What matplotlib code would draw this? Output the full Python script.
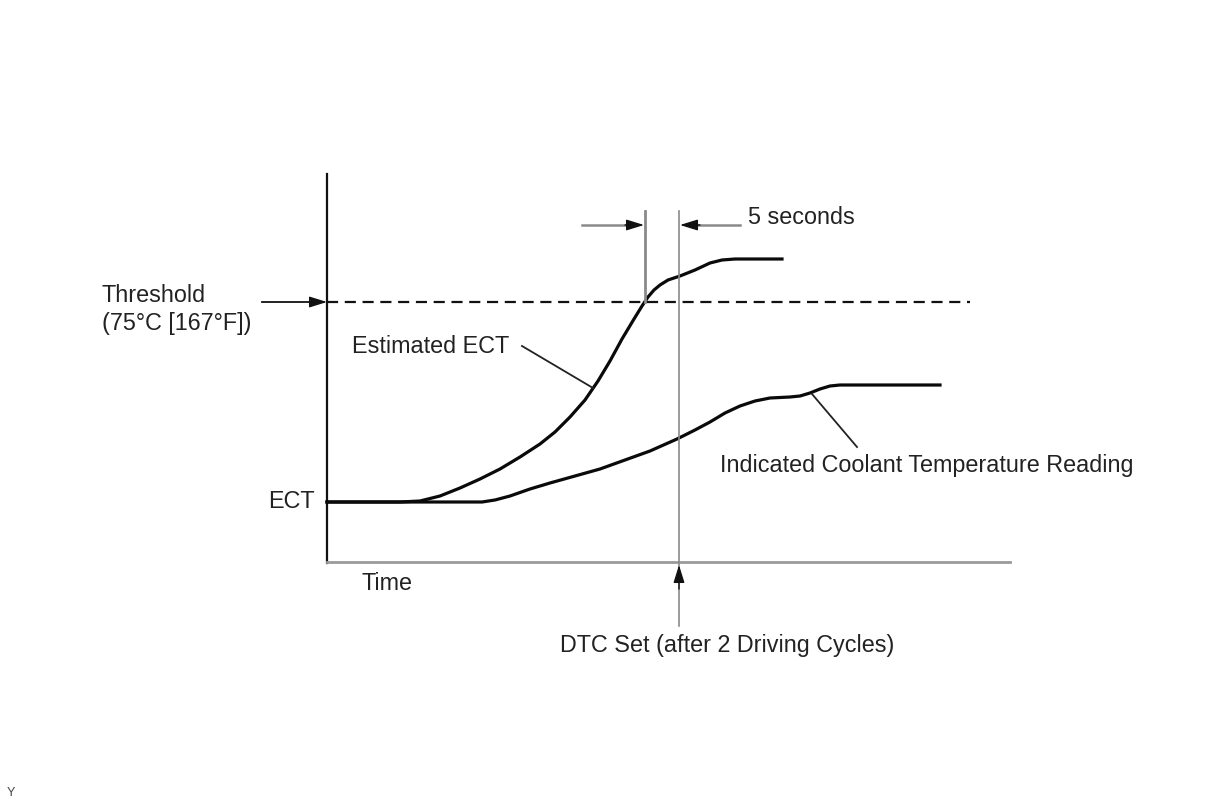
import numpy as np
import matplotlib
matplotlib.use("Agg")
import matplotlib.pyplot as plt

plt.rcParams['font.family'] = ['Liberation Sans', 'DejaVu Sans']

# curves (x, y in picture pixels, y grows downward)
est_x = [327, 400, 420, 440, 460, 480, 500, 520, 540, 555, 570, 585, 598, 610,
         622, 634, 642, 648, 654, 660, 668, 680, 695, 710, 722, 735, 782]
est_y = [503, 503, 502, 497, 489, 480, 470, 458, 445, 433, 418, 401, 382, 362,
         340, 320, 307, 298, 291, 286, 281, 277, 271, 264, 261, 260, 260]

ind_x = [327, 482, 495, 510, 530, 550, 575, 600, 625, 650, 677, 695, 710, 725,
         740, 755, 770, 790, 800, 810, 820, 830, 840, 940]
ind_y = [503, 503, 501, 497, 490, 484, 477, 470, 461, 452, 440, 431, 423, 414,
         407, 402, 399, 398, 397, 394, 390, 387, 386, 386]

threshold_y = 303
ect_y = 503
cross_x = 645     # where estimated ECT crosses the threshold
dtc_x = 679       # 5 seconds later

fig = plt.figure(figsize=(12.12, 8.04), dpi=100)
ax = fig.add_axes([0, 0, 1, 1])
ax.set_xlim(0, 1212)
ax.set_ylim(804, 0)
ax.axis('off')

txt = '#222222'
fs = 16.8
head = dict(arrowstyle='-|>,head_length=0.9,head_width=0.28', mutation_scale=12,
            shrinkA=0, shrinkB=0, lw=1.0)

# axes of the sketch
ax.plot([327, 327], [175, 564], color='#111111', lw=1.6)
ax.plot([327, 1010], [563, 563], color='#9a9a9a', lw=2.0)

# threshold
ax.plot([327, 970], [threshold_y, threshold_y], color='#111111', lw=1.6,
        linestyle=(0, (5.0, 3.0)))
ax.plot([262, 318], [threshold_y, threshold_y], color='#111111', lw=1.3)
ax.annotate('', xy=(327, threshold_y), xytext=(310, threshold_y),
            arrowprops=dict(color='#111111', **head))

# curves
ax.plot(est_x, est_y, color='#0a0a0a', lw=2.3, solid_joinstyle='round')
ax.plot(ind_x, ind_y, color='#0a0a0a', lw=2.3, solid_joinstyle='round')

# vertical markers
ax.plot([cross_x, cross_x], [212, threshold_y], color='#8a8a8a', lw=2.0)
ax.plot([dtc_x, dtc_x], [212, 627], color='#8a8a8a', lw=1.2)

# 5 seconds dimension arrows
ax.plot([582, 635], [226, 226], color='#8a8a8a', lw=1.8)
ax.annotate('', xy=(cross_x - 1, 226), xytext=(625, 226),
            arrowprops=dict(color='#111111', **head))
ax.plot([689, 740], [226, 226], color='#8a8a8a', lw=1.8)
ax.annotate('', xy=(dtc_x + 1, 226), xytext=(700, 226),
            arrowprops=dict(color='#111111', **head))

# DTC arrow
ax.annotate('', xy=(dtc_x, 566), xytext=(dtc_x, 590),
            arrowprops=dict(color='#111111', **head))

# leader lines
ax.plot([522, 593], [347, 389], color='#222222', lw=1.3)
ax.plot([812, 857], [395, 448], color='#222222', lw=1.3)

# labels
ax.text(748, 218, '5 seconds', fontsize=fs, color=txt, va='center', ha='left')
ax.text(102, 296, 'Threshold', fontsize=fs, color=txt, va='center', ha='left')
ax.text(102, 324, '(75°C [167°F])', fontsize=fs, color=txt, va='center', ha='left')
ax.text(352, 347, 'Estimated ECT', fontsize=fs, color=txt, va='center', ha='left')
ax.text(315, 502, 'ECT', fontsize=fs, color=txt, va='center', ha='right')
ax.text(362, 584, 'Time', fontsize=fs, color=txt, va='center', ha='left')
ax.text(560, 646, 'DTC Set (after 2 Driving Cycles)', fontsize=fs, color=txt,
        va='center', ha='left')
ax.text(720, 466, 'Indicated Coolant Temperature Reading', fontsize=fs, color=txt,
        va='center', ha='left')
ax.text(7, 793, 'Y', fontsize=9, color='#444444', va='center', ha='left')

fig.savefig('out.png', dpi=100)
